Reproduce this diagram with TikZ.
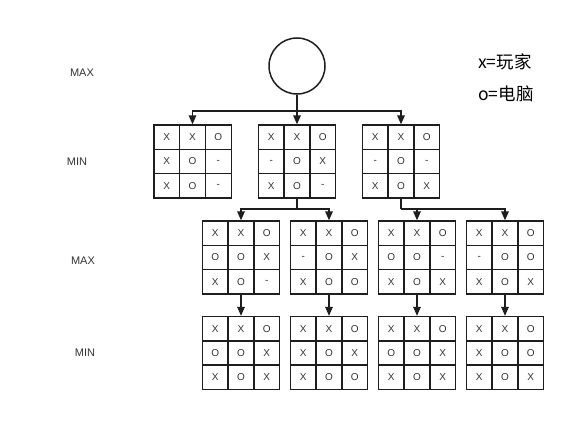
\documentclass[tikz,border=0pt]{standalone}
\usepackage{fontspec}
\setmainfont{Liberation Sans}
\newfontfamily\cjkfont{Noto Sans CJK SC}
\usetikzlibrary{matrix,arrows.meta}
\definecolor{linec}{HTML}{1E1E1E}
\definecolor{textc}{HTML}{333333}
\tikzset{
  cell/.style={draw=linec, line width=1.4pt, minimum width=25.8pt, minimum height=24.3pt,
    inner sep=0pt, font=\fontsize{10}{11}\selectfont, text=textc, anchor=center},
  board/.style={matrix of nodes, inner sep=0pt, outer sep=0pt,
    column sep=-1.4pt, row sep=-1.4pt, nodes={cell}},
  conn/.style={draw=linec, line width=1.3pt},
  arr/.style={conn, -{Triangle[length=9pt,width=7.5pt]}},
  lvl/.style={font=\fontsize{11}{13}\selectfont, text=textc},
  legend/.style={font=\cjkfont\fontsize{17.5}{20}\selectfont, text=black, anchor=west, inner sep=0pt}
}
\begin{document}
\begin{tikzpicture}[x=1pt,y=-1pt]
\useasboundingbox (0,0) rectangle (569,444);
% level labels
\node[lvl] (l1) at (82,73) {MAX};
\node[lvl] (l2) at (77,162) {MIN};
\node[lvl] (l3) at (83,261) {MAX};
\node[lvl] (l4) at (85,353) {MIN};
% legend
\node[legend] (g1) at (478,62) {x=玩家};
\node[legend] (g2) at (478,94) {o=电脑};
% root
\node[draw=linec, line width=1.5pt, circle, minimum size=56pt, inner sep=0pt] (root) at (297,66) {};
% level 1
\matrix (a1) [board] at (192.5,161.5) { X & X & O \\ X & O & - \\ X & O & - \\};
\matrix (a2) [board] at (297,161.5) { X & X & O \\ - & O & X \\ X & O & - \\};
\matrix (a3) [board] at (401,161.5) { X & X & O \\ - & O & - \\ X & O & X \\};
% level 2
\matrix (b1) [board] at (241,257.5) { X & X & O \\ O & O & X \\ X & O & - \\};
\matrix (b2) [board] at (329,257.5) { X & X & O \\ - & O & X \\ X & O & O \\};
\matrix (b3) [board] at (417,257.5) { X & X & O \\ O & O & - \\ X & O & X \\};
\matrix (b4) [board] at (505,257.5) { X & X & O \\ - & O & O \\ X & O & X \\};
% level 3
\matrix (c1) [board] at (241,353) { X & X & O \\ O & O & X \\ X & O & X \\};
\matrix (c2) [board] at (329,353) { X & X & O \\ X & O & X \\ X & O & O \\};
\matrix (c3) [board] at (417,353) { X & X & O \\ O & O & X \\ X & O & X \\};
\matrix (c4) [board] at (505,353) { X & X & O \\ X & O & O \\ X & O & X \\};
% connectors
\coordinate (j0) at (297,111);
\coordinate (j1) at (297,209);
\coordinate (j2) at (401,209);
\draw[conn] (root.south) -- (j0);
\draw[arr] (j0) -| (a1.north);
\draw[arr] (j0) -- (a2.north);
\draw[arr] (j0) -| (a3.north);
\draw[conn] (a2.south) -- (j1);
\draw[arr] (j1) -| (b1.north);
\draw[arr] (j1) -| (b2.north);
\draw[conn] (a3.south) -- (j2);
\draw[arr] (j2) -| (b3.north);
\draw[arr] (j2) -| (b4.north);
\draw[arr] (b1.south) -- (c1.north);
\draw[arr] (b2.south) -- (c2.north);
\draw[arr] (b3.south) -- (c3.north);
\draw[arr] (b4.south) -- (c4.north);
\end{tikzpicture}
\end{document}
